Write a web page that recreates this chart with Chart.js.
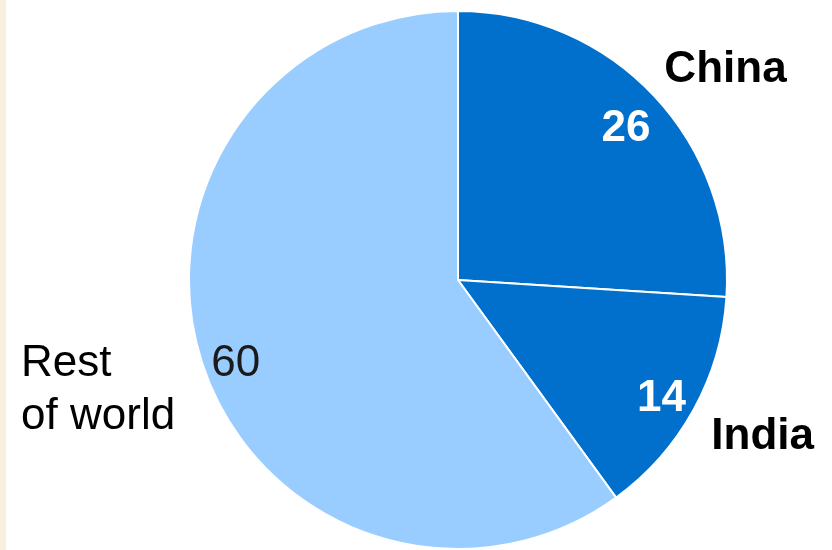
<!DOCTYPE html>
<html><head><meta charset="utf-8">
<script src="https://cdn.jsdelivr.net/npm/chart.js@4/dist/chart.umd.min.js"></script>
<style>
html,body{margin:0;padding:0;background:#fff;}
#wrap{position:relative;width:832px;height:550px;background:linear-gradient(to right,#F8EFDF 0,#F8EFDF 6px,#fff 6px,#fff 100%);}
canvas{display:block;}
</style></head><body>
<div id="wrap"><canvas id="c" width="832" height="550"></canvas></div>
<script>
const categories = ['China', 'India', 'Rest of world'];
const shares = [26, 14, 60];
const valueLabels = ['26', '14', '60'];
const nameLines = [['China'], ['India'], ['Rest', 'of world']];

// label placement relative to pie (angle from top clockwise, radius factor)
const valuePlace = [
  {angle: 50.4, r: 0.81, color: '#ffffff', weight: 'bold', align: 'center'},
  {angle: 122.8, r: 0.90, color: '#ffffff', weight: 'bold', align: 'center'},
  {angle: 246.7, r: 0.90, color: '#1a1a1a', weight: 'normal', align: 'center'}
];
const namePlace = [
  {angle: 53.5, r: 1.237, weight: 'bold', align: 'center'},
  {angle: 119.0, r: 1.295, weight: 'bold', align: 'center'},
  {angle: 257.6, r: 1.663, weight: 'normal', align: 'left'}
];

const labelPlugin = {
  id: 'pieLabels',
  afterDatasetsDraw(chart) {
    const ctx = chart.ctx;
    const arc = chart.getDatasetMeta(0).data[0];
    const cx = arc.x, cy = arc.y, R = arc.outerRadius;
    const pos = (a, f) => {
      const t = a * Math.PI / 180;
      return [cx + R * f * Math.sin(t), cy - R * f * Math.cos(t)];
    };
    ctx.save();
    ctx.textBaseline = 'alphabetic';
    valueLabels.forEach((txt, i) => {
      const p = valuePlace[i];
      const [x, y] = pos(p.angle, p.r);
      ctx.font = p.weight + ' 44px "Liberation Sans", Arial, sans-serif';
      ctx.fillStyle = p.color;
      ctx.textAlign = p.align;
      ctx.fillText(txt, x, y);
    });
    nameLines.forEach((lines, i) => {
      const p = namePlace[i];
      const [x, y] = pos(p.angle, p.r);
      ctx.font = p.weight + ' 44px "Liberation Sans", Arial, sans-serif';
      ctx.fillStyle = '#000000';
      ctx.textAlign = p.align;
      lines.forEach((ln, j) => ctx.fillText(ln, x, y + j * 53));
    });
    ctx.restore();
  }
};

new Chart(document.getElementById('c'), {
  type: 'pie',
  data: {
    labels: categories,
    datasets: [{
      data: shares,
      backgroundColor: ['#0070CC', '#0070CC', '#99CCFF'],
      borderColor: '#ffffff',
      borderWidth: 2
    }]
  },
  options: {
    responsive: false,
    animation: false,
    layout: {padding: {left: 188, right: 104, top: 10, bottom: 0}},
    plugins: {legend: {display: false}, tooltip: {enabled: false}}
  },
  plugins: [labelPlugin]
});
</script>
</body></html>
